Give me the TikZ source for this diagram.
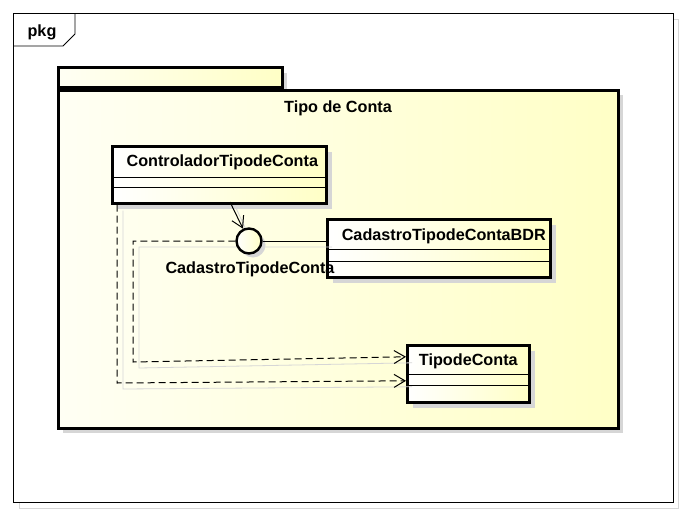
\documentclass[tikz,border=0pt]{standalone}
\usepackage{fontspec}
\setmainfont{Liberation Sans}
\usetikzlibrary{arrows.meta, positioning, shadows}

\definecolor{umlyellow}{RGB}{255,255,198}
\definecolor{umlpale}{RGB}{255,255,244}
\definecolor{umlshadow}{RGB}{214,214,214}

\begin{document}
\begin{tikzpicture}[
    x=1pt, y=-1pt,
    font=\fontsize{16.2}{19}\selectfont\bfseries,
    frame/.style={
        draw,
        line width=0.8pt
    },
    pkgbox/.style={
        rectangle,
        draw,
        line width=2.6pt,
        inner sep=0pt,
        left color=umlpale,
        right color=umlyellow,
        drop shadow={shadow xshift=5pt, shadow yshift=-5pt, fill=umlshadow, opacity=1}
    },
    clsbox/.style={
        rectangle,
        draw,
        line width=2.6pt,
        inner sep=0pt,
        anchor=north west,
        left color=white,
        right color=umlyellow,
        drop shadow={shadow xshift=6pt, shadow yshift=-6pt, fill=umlshadow, opacity=1}
    },
    iface/.style={
        circle,
        draw,
        line width=2.4pt,
        inner sep=0pt,
        minimum size=25pt,
        left color=white,
        right color=umlyellow,
        drop shadow={shadow xshift=4pt, shadow yshift=-4pt, fill=umlshadow, opacity=1}
    },
    sep/.style={
        line width=0.9pt
    },
    dep/.style={
        -{Straight Barb[length=11pt, width=13pt]},
        dash pattern=on 7pt off 4pt,
        line width=1pt
    },
    use/.style={
        -{Straight Barb[length=11pt, width=13pt]},
        line width=1pt
    },
    ghost/.style={
        draw=umlshadow,
        line width=0.8pt,
        transform canvas={shift={(6pt,-6pt)}}
    }
]
\useasboundingbox (0,0) rectangle (685,514);

% Diagram frame
\draw[umlshadow, line width=0.8pt] (19,19) rectangle (678,508);
\draw[frame, fill=white] (13,13) rectangle (673,502);
\draw[frame] (13,46) -- (63,46) -- (75,34) -- (75,13);
\node (pkglabel) at (42,32) {pkg};

% Package Tipo de Conta
\node[pkgbox, anchor=south west, minimum width=224pt, minimum height=20pt] (pkgtab) at (57,89) {};
\node[pkgbox, anchor=north west, minimum width=560pt, minimum height=338pt] (pkg) at (57,89) {};
\node (pkgname) at (338,108) {Tipo de Conta};

% Connector shadows
\coordinate (bendA) at (133,241);
\coordinate (bendB) at (133,362);
\coordinate (bendC) at (117,383);
\coordinate (ctrlfoot) at (230,202);

% Classes
\node[clsbox, minimum width=214pt, minimum height=57pt] (ctrl) at (111,145) {};
\node[clsbox, minimum width=223pt, minimum height=58pt] (bdr) at (326,218) {};
\node[clsbox, minimum width=122pt, minimum height=57pt] (tipo) at (406,344) {};

\draw[ghost] (bdr.west |- bendA) -- (bendA) -- (bendB) -- ([yshift=17pt]tipo.west);
\draw[ghost] (bendC |- ctrl.south) -- (bendC) -- ([yshift=-7pt]tipo.west);
\draw[ghost] (ctrlfoot) -- (242,228);

\foreach \cls/\a/\b in {ctrl/32/42, bdr/31/43, tipo/30/41} {
    \draw[sep] ([yshift=-\a pt]\cls.north west) -- ([yshift=-\a pt]\cls.north east);
    \draw[sep] ([yshift=-\b pt]\cls.north west) -- ([yshift=-\b pt]\cls.north east);
}

\node (ctrlname) at ([xshift=3pt, yshift=-17pt]ctrl.north) {ControladorTipodeConta};
\node (bdrname) at ([xshift=5pt, yshift=-18pt]bdr.north) {CadastroTipodeContaBDR};
\node (tiponame) at ([yshift=-17pt]tipo.north) {TipodeConta};

% Interface
\node[iface] (cad) at (249,241) {};
\node (cadname) at (250,269) {CadastroTipodeConta};

% Connectors
\draw[use] (ctrlfoot) -- (cad);
\draw[line width=1pt] (cad.east) -- (cad.east -| bdr.west);
\draw[dep] (cad.west) -- (bendA) -- (bendB) -- ([yshift=17pt]tipo.west);
\draw[dep] (bendC |- ctrl.south) -- (bendC) -- ([yshift=-7pt]tipo.west);

\end{tikzpicture}
\end{document}
